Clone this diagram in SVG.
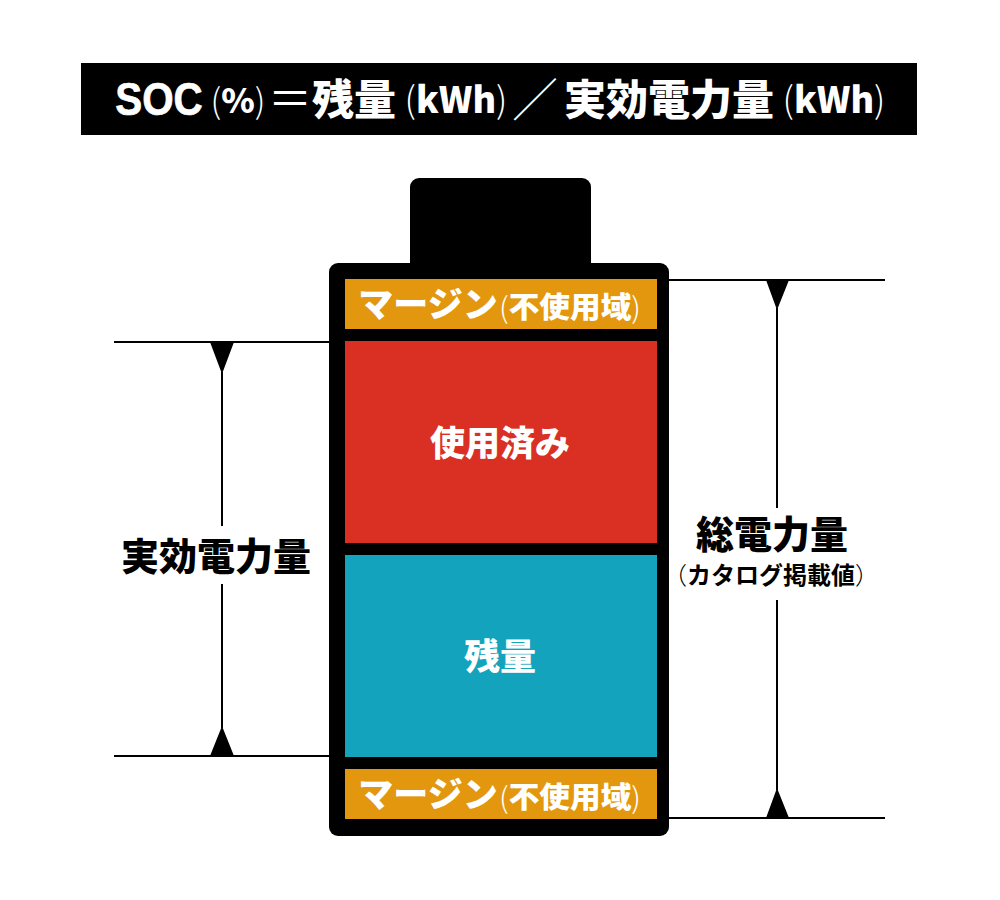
<svg xmlns="http://www.w3.org/2000/svg" width="1000" height="900" viewBox="0 0 1000 900">
<style>
text{font-family:"Noto Sans CJK JP","Liberation Sans",sans-serif;font-weight:900;text-anchor:middle}
.w{fill:#fff}.k{fill:#000}
.l{stroke:#000;stroke-width:2;fill:none}
.p{font-weight:300}
.s{font-family:"Liberation Sans","Noto Sans CJK JP",sans-serif;font-weight:700;stroke:#fff;stroke-width:.7}
</style>
<rect width="1000" height="900" fill="#fff"/>
<g id="title">
<rect x="81" y="63" width="836" height="72" fill="#000"/>
<text class="w s" font-size="47" transform="translate(159 115) scale(.86 1)">SOC</text>
<text class="w" font-size="34" transform="translate(238 113)"><tspan class="p">(</tspan>%<tspan class="p">)</tspan></text>
<text class="w" y="115" font-size="44" x="290" style="font-weight:400">＝</text>
<text class="w" y="115" font-size="42" x="354">残量</text>
<text class="w" font-size="36" transform="translate(456 113)"><tspan class="p">(</tspan>kWh<tspan class="p">)</tspan></text>
<text class="w" y="116" font-size="46" x="535" style="font-weight:300">／</text>
<text class="w" y="115" font-size="42" x="669">実効電力量</text>
<text class="w" font-size="36" transform="translate(834 113)"><tspan class="p">(</tspan>kWh<tspan class="p">)</tspan></text>
</g>
<g id="battery">
<rect x="410" y="178" width="181" height="100" rx="9" fill="#000"/>
<rect x="329" y="263" width="340" height="573" rx="9" fill="#000"/>
</g>
<g id="margin-top">
<rect x="345" y="279" width="312" height="50" fill="#e2970f"/>
<text class="w" x="428" y="317" font-size="35">マージン</text>
<text class="w" x="570" y="318" font-size="29" textLength="142" lengthAdjust="spacingAndGlyphs"><tspan class="p">(</tspan>不使用域<tspan class="p">)</tspan></text>
</g>
<g id="used">
<rect x="345" y="341" width="312" height="202" fill="#da2f23"/>
<text class="w" x="500" y="456" font-size="35">使用済み</text>
</g>
<g id="remaining">
<rect x="345" y="555" width="312" height="202" fill="#14a3bc"/>
<text class="w" x="500" y="670" font-size="36">残量</text>
</g>
<g id="margin-bottom">
<rect x="345" y="769" width="312" height="50" fill="#e2970f"/>
<text class="w" x="428" y="807" font-size="35">マージン</text>
<text class="w" x="570" y="808" font-size="29" textLength="142" lengthAdjust="spacingAndGlyphs"><tspan class="p">(</tspan>不使用域<tspan class="p">)</tspan></text>
</g>
<g id="connectors">
<path class="l" d="M114 342H329M114 756H329M222 372V526M222 584V728M669 280H885M669 818H885M777 308V508M777 600V790"/>
<path class="k" d="M210 342H234L222 374ZM210 756H234L222 726ZM766 280H789L777 310ZM766 818H789L777 788Z"/>
</g>
<g id="label-effective">
<text class="k" x="216" y="570" font-size="38">実効電力量</text>
</g>
<g id="label-total">
<text class="k" x="772" y="548" font-size="38">総電力量</text>
<text class="k" x="771" y="584" font-size="24" style="font-weight:700"><tspan class="p">（</tspan>カタログ掲載値<tspan class="p">）</tspan></text>
</g>
</svg>
